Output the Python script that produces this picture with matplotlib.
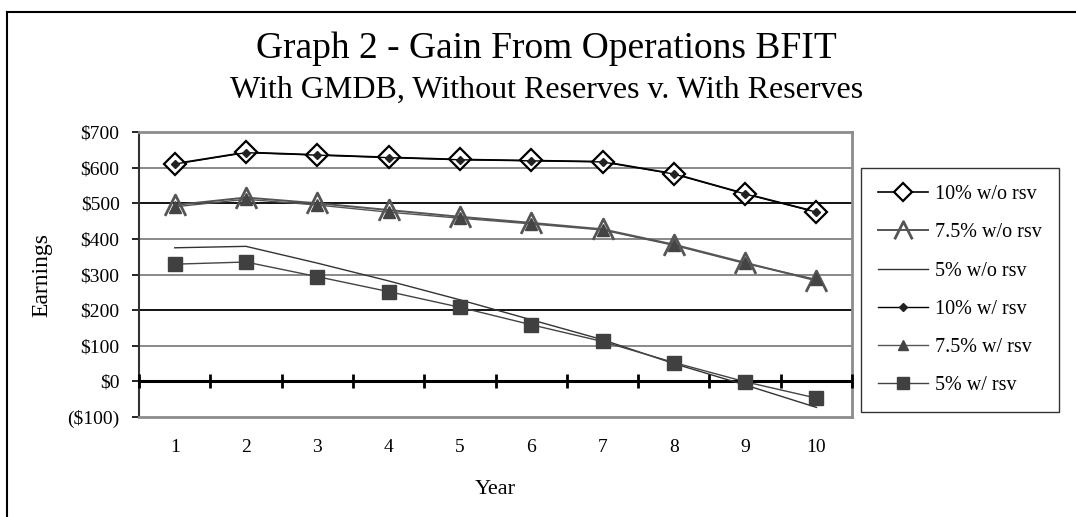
import numpy as np
import matplotlib
matplotlib.use('Agg')
import matplotlib.pyplot as plt
from matplotlib.path import Path
from matplotlib.lines import Line2D

plt.rcParams['font.family'] = ['Liberation Serif', 'DejaVu Serif']

# data
years = [1, 2, 3, 4, 5, 6, 7, 8, 9, 10]
g10_wo = [611, 643, 636, 629, 623, 620, 617, 583, 527, 476]
g75_wo = [495, 516, 500, 481, 462, 445, 427, 384, 333, 283]
g5_wo = [375, 379, 332, 282, 229, 173, 117, 50, -10, -73]
g10_w = [610, 642, 635, 628, 622, 619, 616, 582, 526, 475]
g75_w = [490, 511, 495, 475, 458, 442, 425, 382, 331, 286]
g5_w = [329, 335, 294, 252, 208, 159, 112, 53, -1, -47]

ytick_vals = [-100, 0, 100, 200, 300, 400, 500, 600, 700]
ytick_labels = ['($100)', '$0', '$100', '$200', '$300', '$400', '$500', '$600', '$700']

fig = plt.figure(figsize=(10.76, 5.17), dpi=100)
ax = fig.add_axes([0.1292, 0.1934, 0.6627, 0.5513])

# gridlines (scan makes some look darker than others)
grid_cols = {100: '#808080', 200: '#000000', 300: '#808080', 400: '#808080',
             500: '#000000', 600: '#808080'}
for v, c in grid_cols.items():
    ax.axhline(v, color=c, lw=1.3, zorder=1)

# zero line with category separators
ax.axhline(0, color='black', lw=2.2, zorder=2)
seps = np.arange(0.5, len(years) + 1, 1.0)
ax.plot(seps, np.zeros(len(seps)), ls='none', marker='|', ms=10, mew=2,
        color='black', zorder=3, clip_on=False)

caret = Path([(-1, -1), (0, 1), (1, -1)],
             [Path.MOVETO, Path.LINETO, Path.LINETO])

ax.plot(years, g10_wo, color='black', lw=1.2, marker='D', ms=11,
        mfc='white', mec='black', mew=1.6, label='10% w/o rsv', zorder=4)
ax.plot(years, g75_wo, color='#555555', lw=1.4, marker=caret, ms=15,
        mfc='none', mec='#555555', mew=2, label='7.5% w/o rsv', zorder=4)
ax.plot(years, g5_wo, color='#333333', lw=1.0, label='5% w/o rsv', zorder=4)
ax.plot(years, g10_w, color='black', lw=1.0, marker='D', ms=4.5,
        mfc='#222222', mec='#222222', label='10% w/ rsv', zorder=5)
ax.plot(years, g75_w, color='#555555', lw=1.0, marker='^', ms=8,
        mfc='#444444', mec='#444444', label='7.5% w/ rsv', zorder=5)
ax.plot(years, g5_w, color='#444444', lw=1.0, marker='s', ms=10,
        mfc='#404040', mec='#404040', label='5% w/ rsv', zorder=5)

ax.set_xlim(0.5, 10.5)
ax.set_ylim(-100, 700)
ax.set_yticks(ytick_vals)
ax.set_yticklabels(ytick_labels, fontsize=14)
ax.set_xticks(years)
ax.set_xticklabels([str(y) for y in years], fontsize=14)
ax.tick_params(axis='x', length=0, pad=16)
ax.tick_params(axis='y', length=5, width=1.2, direction='out', pad=9)

for s in ['top', 'right', 'bottom']:
    ax.spines[s].set_color('#8c8c8c')
    ax.spines[s].set_linewidth(2)
ax.spines['left'].set_color('#333333')
ax.spines['left'].set_linewidth(1.5)

ax.set_ylabel('Earnings', fontsize=17, labelpad=11)
ax.set_xlabel('Year', fontsize=16, labelpad=17)

fig.text(0.5075, 1 - 57.7 / 517, 'Graph 2 - Gain From Operations BFIT',
         ha='center', va='baseline', fontsize=27)
fig.text(0.5075, 1 - 98 / 517, 'With GMDB, Without Reserves v. With Reserves',
         ha='center', va='baseline', fontsize=23)

leg = fig.legend(loc='upper left', bbox_to_anchor=(861 / 1076, 1 - 168 / 517),
                 fontsize=14.5, frameon=True, fancybox=False, handlelength=2.5,
                 labelspacing=0.95, borderpad=0.85, handletextpad=0.3,
                 borderaxespad=0, markerscale=0.85)
leg.get_frame().set_edgecolor('black')
leg.get_frame().set_linewidth(1.0)

# outer chart border (cropped on right and bottom)
fig.add_artist(Line2D([7 / 1076, 7 / 1076], [0, 1 - 12 / 517],
                      transform=fig.transFigure, color='black', lw=1.5))
fig.add_artist(Line2D([7 / 1076, 1], [1 - 12 / 517, 1 - 12 / 517],
                      transform=fig.transFigure, color='black', lw=1.5))

fig.savefig('out.png', dpi=100)
